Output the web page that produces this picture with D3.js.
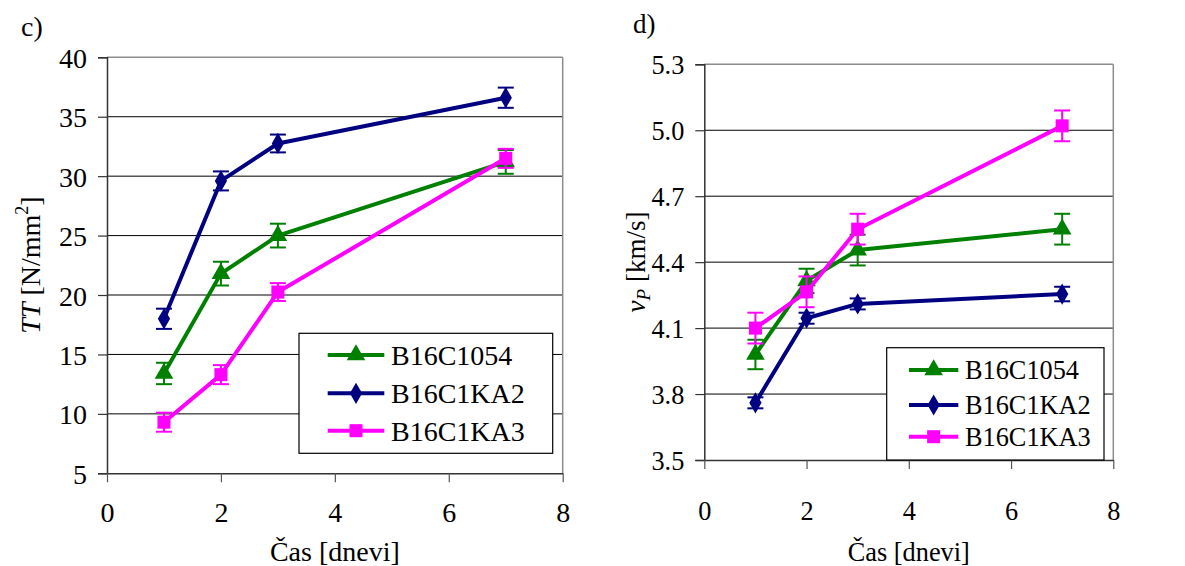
<!DOCTYPE html>
<html>
<head>
<meta charset="utf-8">
<script src="https://cdn.jsdelivr.net/npm/d3@7"></script>
<style>
  html, body { margin: 0; padding: 0; background: #fff; }
  svg { display: block; }
</style>
</head>
<body>
<svg id="chart" width="1185" height="566"></svg>
<script>
// ---- data ----
const days = [1, 2, 3, 7];
const seriesNames = ["B16C1054", "B16C1KA2", "B16C1KA3"];
const seriesColors = ["#008000", "#000080", "#FF00FF"];
const seriesSymbols = ["triangle", "diamond", "square"];

// panel c) TT [N/mm2]
const ttB16C1054 = [13.4, 21.8, 25.0, 31.2];
const ttB16C1054Err = [0.9, 1.0, 1.0, 1.0];
const ttB16C1KA2 = [18.0, 29.6, 32.75, 36.6];
const ttB16C1KA2Err = [0.85, 0.8, 0.75, 0.85];
const ttB16C1KA3 = [9.3, 13.3, 20.25, 31.5];
const ttB16C1KA3Err = [0.8, 0.8, 0.75, 0.8];

// panel d) vP [km/s]
const vpB16C1054 = [3.98, 4.315, 4.455, 4.55];
const vpB16C1054Err = [0.067, 0.055, 0.07, 0.07];
const vpB16C1KA2 = [3.76, 4.145, 4.21, 4.255];
const vpB16C1KA2Err = [0.025, 0.025, 0.025, 0.033];
const vpB16C1KA3 = [4.10, 4.265, 4.55, 5.02];
const vpB16C1KA3Err = [0.07, 0.07, 0.07, 0.07];

const xTicks = [0, 2, 4, 6, 8];
const ttTicks = [5, 10, 15, 20, 25, 30, 35, 40];
const vpTicks = [3.5, 3.8, 4.1, 4.4, 4.7, 5.0, 5.3];

const svg = d3.select("#chart");
const SERIF = '"Liberation Serif"';
function txt(sel, size) {
  return sel.style("font-family", SERIF).style("font-size", size + "px").style("fill", "#000");
}

function panel(cfg) {
  const g = svg.append("g");
  const F = cfg.font;
  const x = d3.scaleLinear().domain([0, 8]).range([cfg.left, cfg.right]);
  const y = d3.scaleLinear().domain(cfg.yDomain).range([cfg.bottom, cfg.top]);

  // gridlines
  g.selectAll(".grid").data(cfg.yTicks.filter(t => t !== cfg.yDomain[0] && t !== cfg.yDomain[1]))
    .enter().append("line")
    .attr("x1", cfg.left).attr("x2", cfg.right)
    .attr("y1", d => y(d)).attr("y2", d => y(d))
    .attr("stroke", "#000").attr("stroke-width", 1);

  // top & right border (grey)
  g.append("line").attr("x1", cfg.left).attr("x2", cfg.right).attr("y1", cfg.top).attr("y2", cfg.top)
    .attr("stroke", "#8c8c8c").attr("stroke-width", 1.5);
  g.append("line").attr("x1", cfg.right).attr("x2", cfg.right).attr("y1", cfg.top).attr("y2", cfg.bottom)
    .attr("stroke", "#8c8c8c").attr("stroke-width", 1.5);

  // y axis
  const yAxis = d3.axisLeft(y).tickValues(cfg.yTicks).tickFormat(cfg.yFormat).tickSize(9).tickPadding(11);
  const ya = g.append("g").attr("transform", `translate(${cfg.left},0)`).call(yAxis);
  ya.select(".domain").attr("stroke", "#333").attr("stroke-width", 1.5);
  ya.selectAll(".tick line").attr("stroke", "#333").attr("stroke-width", 1.2);
  txt(ya.selectAll("text"), F).attr("dy", "0.36em");

  // x axis
  const xAxis = d3.axisBottom(x).tickValues(xTicks).tickFormat(d3.format("d")).tickSizeInner(9).tickSizeOuter(0).tickPadding(cfg.xPad);
  const xa = g.append("g").attr("transform", `translate(0,${cfg.bottom})`).call(xAxis);
  xa.select(".domain").attr("stroke", "#333").attr("stroke-width", 1.5);
  xa.selectAll(".tick line").attr("stroke", "#555").attr("stroke-width", 1.2);
  txt(xa.selectAll("text"), F);

  // x title
  txt(g.append("text"), F).attr("x", (cfg.left + cfg.right) / 2).attr("y", 561)
    .attr("text-anchor", "middle").text("Čas [dnevi]");

  // series
  const sym = {
    triangle: d3.symbol().type(d3.symbolTriangle).size(150),
    diamond: d3.symbol().type(d3.symbolDiamond).size(130),
    square: d3.symbol().type(d3.symbolSquare).size(170)
  };
  const line = d3.line().x(d => x(d.x)).y(d => y(d.y));
  cfg.series.forEach((s, i) => {
    const pts = days.map((d, k) => ({ x: d, y: s.values[k], e: s.errs[k] }));
    const sg = g.append("g");
    pts.forEach(p => {
      const cx = x(p.x);
      sg.append("line").attr("x1", cx).attr("x2", cx).attr("y1", y(p.y + p.e)).attr("y2", y(p.y - p.e))
        .attr("stroke", seriesColors[i]).attr("stroke-width", 2);
      [p.y + p.e, p.y - p.e].forEach(v => {
        sg.append("line").attr("x1", cx - 8).attr("x2", cx + 8).attr("y1", y(v)).attr("y2", y(v))
          .attr("stroke", seriesColors[i]).attr("stroke-width", 2);
      });
    });
    sg.append("path").datum(pts).attr("d", line).attr("fill", "none")
      .attr("stroke", seriesColors[i]).attr("stroke-width", 4).attr("stroke-linejoin", "round");
    sg.selectAll(".m").data(pts).enter().append("path")
      .attr("transform", d => `translate(${x(d.x)},${y(d.y)})`)
      .attr("d", sym[seriesSymbols[i]]()).attr("fill", seriesColors[i]);
  });

  // legend
  const L = cfg.legend;
  const lg = g.append("g");
  lg.append("rect").attr("x", L.x).attr("y", L.y).attr("width", L.w).attr("height", L.h)
    .attr("fill", "#fff").attr("stroke", "#000").attr("stroke-width", 1.2);
  seriesNames.forEach((n, i) => {
    const yy = L.rows[i];
    lg.append("line").attr("x1", L.lx1).attr("x2", L.lx2).attr("y1", yy).attr("y2", yy)
      .attr("stroke", seriesColors[i]).attr("stroke-width", 4);
    lg.append("path").attr("transform", `translate(${(L.lx1 + L.lx2) / 2},${yy})`)
      .attr("d", sym[seriesSymbols[i]]()).attr("fill", seriesColors[i]);
    txt(lg.append("text"), F).attr("x", L.tx).attr("y", yy).attr("dy", "0.35em").text(n);
  });
  return g;
}

panel({
  left: 107, right: 562.7, top: 57.3, bottom: 473.3, font: 28, xPad: 20,
  yDomain: [5, 40], yTicks: ttTicks, yFormat: d3.format("d"),
  series: [
    { values: ttB16C1054, errs: ttB16C1054Err },
    { values: ttB16C1KA2, errs: ttB16C1KA2Err },
    { values: ttB16C1KA3, errs: ttB16C1KA3Err }
  ],
  legend: { x: 299, y: 333.3, w: 253.7, h: 120, lx1: 327.7, lx2: 384.3, tx: 391, rows: [355, 393.3, 430.7] }
});

panel({
  left: 704.3, right: 1113.3, top: 64.3, bottom: 460, font: 26.3, xPad: 32,
  yDomain: [3.5, 5.3], yTicks: vpTicks, yFormat: d3.format(".1f"),
  series: [
    { values: vpB16C1054, errs: vpB16C1054Err },
    { values: vpB16C1KA2, errs: vpB16C1KA2Err },
    { values: vpB16C1KA3, errs: vpB16C1KA3Err }
  ],
  legend: { x: 886.7, y: 347.7, w: 217.3, h: 112.3, lx1: 909, lx2: 958.3, tx: 965, rows: [370, 405, 436.7] }
});

// panel letters
txt(svg.append("text"), 28).attr("x", 21).attr("y", 36).text("c)");
txt(svg.append("text"), 27).attr("x", 633).attr("y", 33).text("d)");

// y titles
const t1 = txt(svg.append("text"), 28).attr("transform", "translate(40,265) rotate(-90)")
  .attr("text-anchor", "middle");
t1.append("tspan").style("font-style", "italic").text("TT");
t1.append("tspan").text(" [N/mm");
t1.append("tspan").style("font-size", "18px").attr("dy", -12).text("2");
t1.append("tspan").attr("dy", 12).text("]");

const t2 = txt(svg.append("text"), 27).attr("transform", "translate(645,262) rotate(-90)")
  .attr("text-anchor", "middle");
t2.append("tspan").style("font-style", "italic").text("v");
t2.append("tspan").style("font-style", "italic").style("font-size", "19px").attr("dy", 5).text("P");
t2.append("tspan").attr("dy", -5).text(" [km/s]");
</script>
</body>
</html>
